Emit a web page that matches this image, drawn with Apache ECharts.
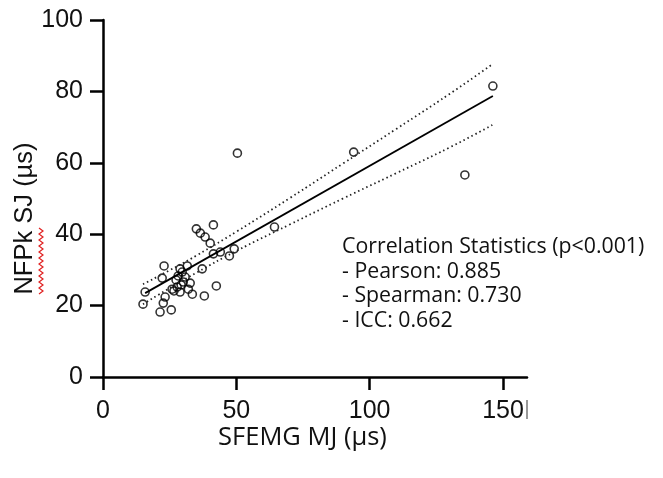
<!DOCTYPE html>
<html>
<head>
<meta charset="utf-8">
<script src="https://cdn.jsdelivr.net/npm/echarts@6/dist/echarts.min.js"></script>
<style>html,body{margin:0;padding:0;background:#fff;}#c{width:663px;height:478px;}</style>
</head>
<body>
<div id="c"></div>
<script>
// Observed points [SFEMG MJ, NFPk SJ]
const pointsX = [146.2, 94.0, 135.7, 50.4, 64.3, 41.4, 35.0, 36.5, 38.3, 40.2, 41.4, 44.0, 47.4, 49.2, 42.5, 38.0, 37.2, 22.9, 22.2, 15.8, 15.0, 22.6, 21.4, 25.6, 28.9, 31.6, 30.8, 30.1, 25.9, 27.8, 28.9, 32.0, 33.5, 23.3, 28.2, 29.7, 27.4, 32.7, 29.3, 26.6];
const pointsY = [81.5, 63.0, 56.6, 62.7, 42.0, 42.6, 41.5, 40.3, 39.2, 37.5, 34.5, 35.0, 33.9, 35.9, 25.5, 22.7, 30.3, 31.1, 27.7, 23.8, 20.4, 20.7, 18.2, 18.8, 30.3, 31.1, 28.0, 26.6, 24.6, 25.2, 23.8, 24.6, 23.2, 22.4, 28.3, 29.4, 27.2, 26.3, 25.8, 24.1];
// Regression line endpoints
const fitX = [15.8, 146.2];
const fitY = [23.5, 78.7];
// Confidence band
const bandX = [15, 25, 35, 50, 70, 90, 110, 130, 146];
const bandUpper = [26.0, 29.9, 34.0, 40.7, 50.1, 59.8, 69.5, 79.3, 87.6];
const bandLower = [20.4, 24.9, 29.2, 35.3, 42.7, 50.0, 57.1, 64.3, 70.6];
// Axis ticks
const xTicks = [0, 50, 100, 150];
const yTicks = [0, 20, 40, 60, 80, 100];
const statsLines = ['Correlation Statistics (p<0.001)', '- Pearson: 0.885', '- Spearman: 0.730', '- ICC: 0.662'];

const zip = (a, b) => a.map((v, i) => [v, b[i]]);
const chart = echarts.init(document.getElementById('c'), null, {renderer: 'canvas'});
const axisFont = 'Liberation Sans';
chart.setOption({
  animation: false,
  backgroundColor: '#fff',
  grid: {left: 103, right: 136, top: 20, bottom: 101, containLabel: false, outerBoundsMode: 'none'},
  xAxis: {
    type: 'value', min: 0, max: 159,
    name: 'SFEMG MJ (µs)', nameLocation: 'middle', nameGap: 48, nameMoveOverlap: false,
    nameTextStyle: {fontFamily: 'Open Sans', fontSize: 25.5, color: '#111', padding: [0, 25, 0, 0]},
    axisLine: {lineStyle: {color: '#000', width: 2.5}},
    axisTick: {customValues: xTicks, length: 13, lineStyle: {color: '#000', width: 2.5}},
    axisLabel: {customValues: xTicks, fontFamily: axisFont, fontSize: 25, color: '#111', margin: 22},
    splitLine: {show: false}
  },
  yAxis: {
    type: 'value', min: 0, max: 100, interval: 20,
    name: 'NFPk SJ (µs)', nameLocation: 'middle', nameGap: 65, nameRotate: 90, nameMoveOverlap: false,
    nameTextStyle: {fontFamily: axisFont, fontSize: 25.5, color: '#111', padding: [0, 40, 0, 0]},
    axisLine: {lineStyle: {color: '#000', width: 2.5}},
    axisTick: {length: 13, lineStyle: {color: '#000', width: 2.5}},
    axisLabel: {fontFamily: axisFont, fontSize: 25, color: '#111', margin: 20},
    splitLine: {show: false}
  },
  series: [
    {type: 'line', data: zip(bandX, bandUpper), smooth: true, symbol: 'none',
     lineStyle: {color: '#222', width: 1.8, type: [1.5, 3]}},
    {type: 'line', data: zip(bandX, bandLower), smooth: true, symbol: 'none',
     lineStyle: {color: '#222', width: 1.8, type: [1.5, 3]}},
    {type: 'line', data: zip(fitX, fitY), symbol: 'none',
     lineStyle: {color: '#000', width: 1.8}},
    {type: 'scatter', data: zip(pointsX, pointsY), symbol: 'circle', symbolSize: 8,
     itemStyle: {color: 'rgba(255,255,255,0)', borderColor: '#000', borderWidth: 1.6}}
  ],
  graphic: [
    {type: 'text', left: 342, top: 235,
     style: {text: statsLines.join('\n'), fontFamily: 'Open Sans', fontSize: 21.3, lineHeight: 24.5, fill: '#111'}},
    {type: 'polyline', silent: true,
     shape: {points: [[39,228],[43,231],[39,234],[43,237],[39,240],[43,243],[39,246],[43,249],[39,252],[43,255],[39,258],[43,261],[39,264],[43,267],[39,270],[43,273],[39,276],[43,279],[39,282],[43,285],[39,288],[43,291],[39,294]]},
     style: {stroke: '#e02020', lineWidth: 1.2, fill: null}},
    {type: 'line', silent: true, shape: {x1: 527, y1: 400, x2: 527, y2: 419}, style: {stroke: '#555', lineWidth: 1.2}}
  ]
});
</script>
</body>
</html>
